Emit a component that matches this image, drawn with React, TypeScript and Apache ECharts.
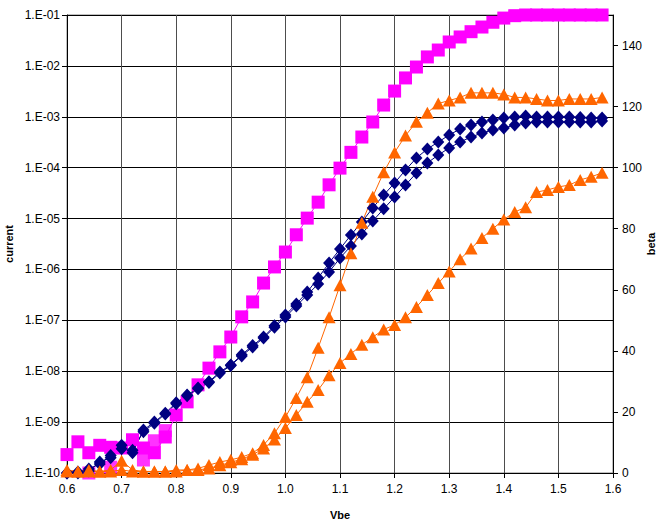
import React, { useEffect, useRef } from "react";
import * as echarts from "echarts";

const vbe = [0.60,0.62,0.64,0.66,0.68,0.70,0.72,0.74,0.76,0.78,0.80,0.82,0.84,0.86,0.88,0.90,0.92,0.94,0.96,0.98,1.00,1.02,1.04,1.06,1.08,1.10,1.12,1.14,1.16,1.18,1.20,1.22,1.24,1.26,1.28,1.30,1.32,1.34,1.36,1.38,1.40,1.42,1.44,1.46,1.48,1.50,1.52,1.54,1.56,1.58];

const ic = [2.3e-10,4.1e-10,2.5e-10,3.5e-10,3.2e-10,3.1e-10,4.5e-10,3.1e-10,2.5e-10,5.1e-10,1.38e-9,2.5e-9,5.4e-9,1.15e-8,2.4e-8,4.7e-8,1.17e-7,2.3e-7,5.4e-7,1.12e-6,2.2e-6,4.8e-6,1.02e-5,2.1e-5,4.6e-5,9.8e-5,2.0e-4,4.0e-4,7.9e-4,1.7e-3,3.2e-3,5.8e-3,9.5e-3,1.5e-2,2.05e-2,2.95e-2,3.7e-2,4.7e-2,5.8e-2,7.2e-2,8.7e-2,0.097,0.1,0.1,0.1,0.1,0.1,0.1,0.1,0.1];

const icExtraVbe = [0.64,0.68,0.74,0.76,0.78];
const icExtra = [1.0e-10,1.3e-10,1.8e-10,4.3e-10,6.8e-10];

const ibA = [1.0e-10,1.0e-10,1.1e-10,1.65e-10,2.0e-10,3.5e-10,2.5e-10,7.0e-10,1.0e-9,1.5e-9,2.4e-9,3.4e-9,4.7e-9,6.2e-9,9.7e-9,1.33e-8,2.1e-8,3.2e-8,4.7e-8,7.8e-8,1.27e-7,2.1e-7,3.6e-7,6.8e-7,1.34e-6,2.52e-6,4.75e-6,8.55e-6,1.62e-5,2.9e-5,5.0e-5,9.0e-5,1.55e-4,2.33e-4,3.19e-4,4.39e-4,5.75e-4,6.9e-4,7.89e-4,8.65e-4,9.46e-4,9.9e-4,1.035e-3,9.9e-4,9.9e-4,9.9e-4,9.9e-4,9.7e-4,9.5e-4,9.46e-4];

const ibB = [1.0e-10,1.05e-10,1.2e-10,1.5e-10,2.2e-10,3.0e-10,2.8e-10,6.5e-10,9.5e-10,1.45e-9,2.3e-9,3.3e-9,4.5e-9,6.0e-9,9.2e-9,1.3e-8,2.0e-8,3.0e-8,4.5e-8,7.3e-8,1.16e-7,1.91e-7,3.15e-7,5.18e-7,8.9e-7,1.68e-6,2.89e-6,4.98e-6,8.95e-6,1.55e-5,2.65e-5,4.57e-5,7.85e-5,1.24e-4,1.77e-4,2.44e-4,3.19e-4,4.0e-4,4.8e-4,5.5e-4,6.0e-4,6.9e-4,7.55e-4,7.89e-4,7.89e-4,7.89e-4,7.89e-4,7.89e-4,7.89e-4,8.26e-4];

const betaC = [1,0.5,1,0.5,1,4,1,0.5,0.5,0.5,1,1,1.5,2.6,3.6,4.3,5.2,6.5,9.2,13,18.3,24.6,31.4,41,51,61.5,72,82,90.5,98.5,105,110.5,115,118,121,122,123,124.5,124.5,124.5,124,123,123,122.5,122,122,122.5,122.5,122.5,123];

const betaD = [0.5,0.5,0.5,0.5,0.5,1,0.5,0.5,0.5,0.5,0.5,1,1,1.5,2.5,3.5,4.5,6,8,11,14.7,19,23.3,27.2,32,36,39,42,44.5,47,48.5,51,54.4,58.3,62.2,66,70,73.5,77,80,83,85.5,87,92,92.7,93.7,94.3,96,97,98.3];

const pairs = (xs: number[], ys: number[]) => xs.map((x, i) => [x, ys[i]]);

export default function App() {
  const ref = useRef<HTMLDivElement>(null);
  useEffect(() => {
    if (!ref.current) return;
    const chart = echarts.init(ref.current, undefined, { renderer: "svg" });
    const font = "Liberation Sans, Arial, sans-serif";
    const MAG = "#FF00FF", NAVY = "#000080", ORG = "#FF6600";
    chart.setOption({
      animation: false,
      backgroundColor: "#fff",
      grid: {
        left: 67, right: 45, top: 15, bottom: 51, show: true, borderColor: "#808080", borderWidth: 1,
        containLabel: false, outerBoundsMode: "none",
      },
      xAxis: {
        type: "value", min: 0.6, max: 1.6, interval: 0.1,
        name: "Vbe", nameLocation: "middle", nameGap: 36,
        nameTextStyle: { fontFamily: font, fontSize: 11, fontWeight: "bold", color: "#000" },
        axisLine: { lineStyle: { color: "#000", width: 1 } },
        axisTick: { show: true, length: 5, lineStyle: { color: "#000" } },
        axisLabel: { fontFamily: font, fontSize: 12, color: "#000", margin: 10, formatter: (v: number) => v.toFixed(1) },
        splitLine: { show: true, lineStyle: { color: "#4d4d4d", width: 1 } },
      },
      yAxis: [
        {
          type: "log", logBase: 10, min: 1e-10, max: 0.1, interval: 1, splitNumber: 9,
          name: "current", nameLocation: "middle", nameGap: 53, nameRotate: 90, nameMoveOverlap: false,
          nameTextStyle: { fontFamily: font, fontSize: 11, fontWeight: "bold", color: "#000" },
          axisLine: { show: true, lineStyle: { color: "#000", width: 1 } },
          axisTick: { show: true, length: 5, lineStyle: { color: "#000" } },
          axisLabel: {
            fontFamily: font, fontSize: 12, color: "#000", margin: 7,
            formatter: (v: number) => {
              const e = Math.round(Math.log10(v));
              const s = String(Math.abs(e)).padStart(2, "0");
              return "1.E" + (e < 0 ? "-" : "+") + s;
            },
          },
          splitLine: { show: true, lineStyle: { color: "#000", width: 1 } },
        },
        {
          type: "value", min: 0, max: 150, interval: 20,
          name: "beta", nameLocation: "middle", nameGap: 32, nameRotate: 90, nameMoveOverlap: false,
          nameTextStyle: { fontFamily: font, fontSize: 11, fontWeight: "bold", color: "#000" },
          axisLine: { show: true, lineStyle: { color: "#000", width: 1 } },
          axisTick: { show: true, length: 5, lineStyle: { color: "#000" } },
          axisLabel: { fontFamily: font, fontSize: 12, color: "#000", margin: 9, showMaxLabel: false },
          splitLine: { show: false },
        },
      ],
      series: [
        {
          name: "Ic", type: "line", yAxisIndex: 0, data: pairs(vbe, ic),
          symbol: "rect", symbolSize: 13, itemStyle: { color: MAG }, lineStyle: { color: MAG, width: 1 },
        },
        {
          name: "Ic2", type: "scatter", yAxisIndex: 0, data: pairs(icExtraVbe, icExtra),
          symbol: "rect", symbolSize: 13, itemStyle: { color: MAG },
        },
        {
          name: "IbA", type: "line", yAxisIndex: 0, data: pairs(vbe, ibA),
          symbol: "diamond", symbolSize: [12, 13], itemStyle: { color: NAVY }, lineStyle: { color: NAVY, width: 1 },
        },
        {
          name: "IbB", type: "line", yAxisIndex: 0, data: pairs(vbe, ibB),
          symbol: "diamond", symbolSize: [12, 13], itemStyle: { color: NAVY }, lineStyle: { color: NAVY, width: 1 },
        },
        {
          name: "betaC", type: "line", yAxisIndex: 1, data: pairs(vbe, betaC),
          symbol: "triangle", symbolSize: [13, 12], itemStyle: { color: ORG }, lineStyle: { color: ORG, width: 1 },
        },
        {
          name: "betaD", type: "line", yAxisIndex: 1, data: pairs(vbe, betaD),
          symbol: "triangle", symbolSize: [13, 12], itemStyle: { color: ORG }, lineStyle: { color: ORG, width: 1 },
        },
      ],
    });
    return () => chart.dispose();
  }, []);
  return <div ref={ref} style={{ position: "fixed", left: 0, top: 0, width: 658, height: 524 }} />;
}
